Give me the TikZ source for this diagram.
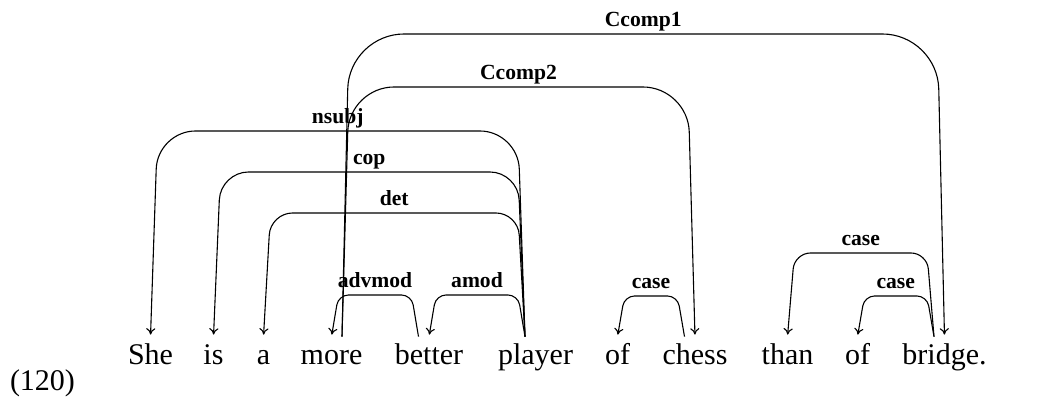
\documentclass[tikz,border=0pt]{standalone}
\usepackage{fontspec}
\setmainfont{Liberation Serif}
\usetikzlibrary{arrows.meta}

\begin{document}
\begin{tikzpicture}[
				x=0.5pt, y=-0.5pt,
				>={To[length=3.2pt,width=4.6pt]},
				word/.style={
					anchor=base, inner sep=0pt,
					text height=14pt, text depth=4pt,
					font=\fontsize{15}{18}\selectfont
				},
				dep/.style={->, line width=0.55pt, black, shorten >=1pt},
				lbl/.style={
					font=\fontsize{10.8}{12}\selectfont\bfseries,
					anchor=base, inner sep=0pt, yshift=3.75pt
				}
				]
				\useasboundingbox (0,0) rectangle (1051,405);
				\node[word] (num)    at (42.5,  391) {(120)};
				\node[word] (she)    at (150.5, 365) {She};
				\node[word] (is)     at (213.5, 365) {is};
				\node[word] (a)      at (263.5, 365) {a};
				\node[word] (more)   at (331.5, 365) {more};
				\node[word] (better) at (429,   365) {better};
				\node[word] (player) at (535.5, 365) {player};
				\node[word] (ofa)    at (617.5, 365) {of};
				\node[word] (chess)  at (695,   365) {chess};
				\node[word] (than)   at (787.5, 365) {than};
				\node[word] (ofb)    at (857.5, 365) {of};
				\node[word] (bridge) at (944.5, 365) {bridge.};
				
				\foreach \src/\tgt/\dr/\hy/\rc/\lab in {
					more/bridge/1/34/55/Ccomp1, more/chess/1/87/45/Ccomp2,
					player/she/-1/131/38/nsubj, player/is/-1/172/28/cop,
					player/a/-1/213/22/det, better/more/-1/295/10/advmod,
					player/better/-1/295/10/amod, chess/ofa/-1/296/10/case,
					bridge/than/-1/253/16/case, bridge/ofb/-1/296/10/case}
				\draw[dep, rounded corners=\rc*0.5pt]
					([xshift=\dr*5.25pt]\src.north)
					-- ([xshift=\dr*8.75pt]\src.north |- 0,\hy)
					-- node[lbl] {\lab} ([xshift=\dr*-3.5pt]\tgt.north |- 0,\hy)
					-- (\tgt.north);
\end{tikzpicture}
\end{document}
